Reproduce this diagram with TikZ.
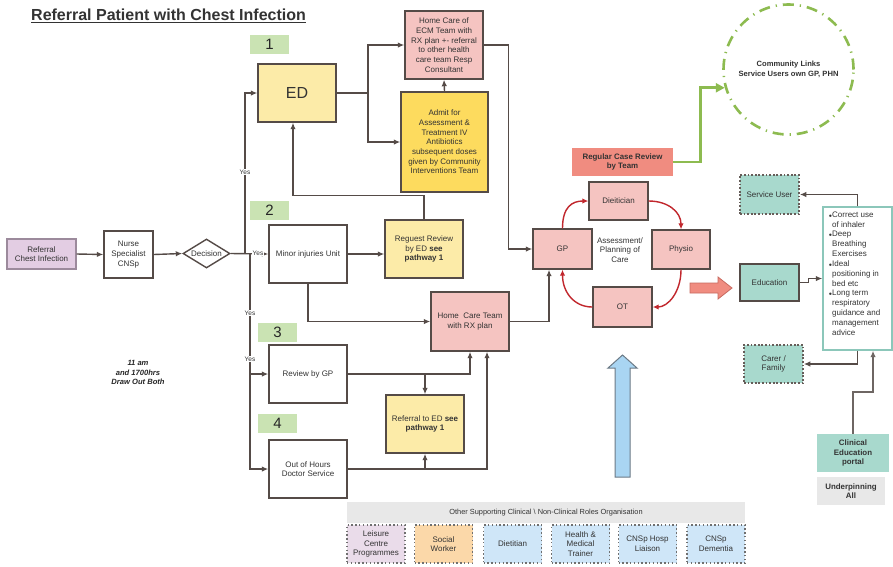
\documentclass[tikz,border=0pt]{standalone}
\usepackage{fontspec}
\setmainfont{Liberation Sans}
\usetikzlibrary{arrows.meta,calc,shapes.geometric}

\definecolor{edge}{HTML}{554B47}
\definecolor{titlegray}{HTML}{333333}
\definecolor{lightyellow}{HTML}{FCEBA8}
\definecolor{gold}{HTML}{FDDB5E}
\definecolor{pinkfill}{HTML}{F5C4C1}
\definecolor{numgreen}{HTML}{CAE3B3}
\definecolor{purplefill}{HTML}{E3CDE3}
\definecolor{purpleedge}{HTML}{9C8A9C}
\definecolor{salmon}{HTML}{F08C80}
\definecolor{salmonedge}{HTML}{C86A60}
\definecolor{cgreen}{HTML}{8DBB50}
\definecolor{cycred}{HTML}{C1272D}
\definecolor{teal}{HTML}{A8D9CD}
\definecolor{tealedge}{HTML}{8CC7BA}
\definecolor{skyfill}{HTML}{A9D5F2}
\definecolor{skyedge}{HTML}{6C7A86}
\definecolor{bandgray}{HTML}{E8E8E8}
\definecolor{lavender}{HTML}{EADCEA}
\definecolor{peach}{HTML}{FBD8A9}
\definecolor{paleblue}{HTML}{CFE6F8}
\definecolor{dotedge}{HTML}{707070}

\newcommand\boxfont{\fontsize{8}{9.7}\selectfont}
\newcommand\boldfont{\fontsize{7.9}{9.7}\selectfont\bfseries}

\tikzset{
  sz/.style 2 args={minimum width=#1pt, minimum height=#2pt},
  box/.style={draw=edge, line width=1.4pt, align=center, inner sep=1pt, font=\boxfont, text=black!80},
  wbox/.style={box, fill=white},
  ybox/.style={box, fill=lightyellow},
  pbox/.style={box, fill=pinkfill},
  numtag/.style={fill=numgreen, minimum width=39pt, minimum height=19pt, inner sep=0pt,
                 font=\fontsize{15}{15}\selectfont, text=black!85},
  conn/.style={draw=edge, line width=1.4pt, -{Latex[length=6.5pt,width=5.5pt]}},
  yes/.style={fill=white, inner sep=0.6pt, font=\fontsize{6.5}{7}\selectfont, text=black!80},
  cyc/.style={draw=cycred, line width=1.4pt, -{Latex[length=6pt,width=5.5pt]}},
  dotbox/.style={draw=dotedge, line width=1.4pt, dash pattern=on 1.4pt off 2.4pt,
                 align=center, inner sep=1pt, font=\boxfont, text=black!80, sz={58}{38}},
  tealdot/.style={draw=edge!90, line width=1.6pt, dash pattern=on 1.8pt off 1.8pt,
                 fill=teal, align=center, inner sep=1pt, font=\boxfont, text=black!80},
}

\begin{document}
\begin{tikzpicture}[x=1pt,y=-1pt]
\fill[white] (0,0) rectangle (893,566);
\useasboundingbox (0,0) rectangle (893,566);

% title
\node[anchor=west, inner sep=0pt, text=titlegray, font=\fontsize{16}{19}\selectfont\bfseries]
  (title) at (31,16) {\underline{Referral Patient with Chest Infection}};

% pathway numbers
\node[numtag] (n1) at (269.5,44.5) {1};
\node[numtag] (n2) at (269.5,210.5) {2};
\node[numtag] (n3) at (277.5,332) {3};
\node[numtag] (n4) at (277.5,423.5) {4};

% entry chain
\node[box, fill=purplefill, draw=purpleedge, sz={69}{30}] (ref) at (41.5,254) {Referral\\Chest Infection};
\node[wbox, sz={49}{47}] (nurse) at (128.5,254.5) {Nurse\\Specialist\\CNSp};
\node[diamond, draw=edge, line width=1.4pt, fill=white, minimum width=47pt, minimum height=29pt,
      inner sep=0pt, label={[font=\boxfont, text=black!80]center:Decision}] (dec) at (206.5,253.5) {};

\node[font=\fontsize{7.6}{9.6}\selectfont\bfseries\itshape, align=center, text=black!85]
  (hours) at (138,372.5) {11 am\\and 1700hrs\\Draw Out Both};

% pathway boxes
\node[ybox, sz={78}{58}, font=\fontsize{16}{16}\selectfont] (ed) at (297,93) {ED};
\node[pbox, sz={78}{68}] (home) at (444,45) {Home Care of\\ECM Team with\\RX plan +- referral\\to other health\\care team Resp\\Consultant};
\node[box, fill=gold, sz={87}{100}] (admit) at (444.5,142) {Admit for\\Assessment \&\\Treatment IV\\Antibiotics\\subsequent doses\\given by Community\\Interventions Team};
\node[wbox, sz={78}{58}] (minor) at (308,254) {Minor injuries Unit};
\node[ybox, sz={78}{58}] (request) at (424,249) {Reguest Review\\by ED \textbf{see}\\\textbf{pathway 1}};
\node[pbox, sz={78}{59}] (hct) at (470,321.5) {Home\ \ Care Team\\with RX plan};
\node[wbox, sz={78}{58}] (revgp) at (308,374) {Review by GP};
\node[ybox, sz={78}{58}] (refed) at (425,424) {Referral to ED \textbf{see}\\\textbf{pathway 1}};
\node[wbox, sz={78}{58}] (ooh) at (308,469) {Out of Hours\\Doctor Service};

% junctions on the decision lines
\coordinate (jup) at (245,253.5);
\coordinate (jdown) at (250,253.5);
\coordinate (jgp) at (250,374);
\coordinate (jed) at (368,93);
\coordinate (jrev) at (425,374);
\coordinate (jooh) at (425,469);

% connectors, left part
\draw[conn] (ref.east) -- (nurse.west);
\draw[conn] (nurse.east) -- (dec.west);
\draw[draw=edge, line width=1.4pt] (dec.east) -- (jup);
\draw[conn] (jup) |- (ed.west);
\draw[conn] (dec.east) -- (minor.west);
\draw[conn] (jdown) |- (ooh.west);
\draw[conn] (jgp) -- (revgp.west);
\node[yes] (yes1) at (245,172) {Yes};
\node[yes] (yes2) at (258,253.5) {Yes};
\node[yes] (yes3) at (250,313) {Yes};
\node[yes] (yes4) at (250,359) {Yes};

\draw[draw=edge, line width=1.4pt] (ed.east) -- (jed);
\draw[conn] (jed) |- (home.west);
\draw[conn] (jed) |- (admit.west);
\draw[conn] (admit.north) -- (home.south);
\draw[conn] (request.north) |- ($(ed.south)+(-4,73)$) -- ($(ed.south)+(-4,0)$);
\draw[conn] (minor.east) -- (minor.east -| request.west);
\draw[conn] (minor.south) |- (hct.west);
\draw[conn] (revgp.east) -| (hct.south);
\draw[conn] (jrev) -- (refed.north);
\draw[conn] (ooh.east) -| ($(hct.south)+(17,0)$);
\draw[conn] (jooh) -- (refed.south);

% care planning cycle
\node[pbox, sz={59}{40}] (gp) at (562.5,249) {GP};
\node[pbox, sz={59}{38}] (diet) at (618.5,201) {Dieitician};
\node[pbox, sz={58}{39}] (physio) at (681,249.5) {Physio};
\node[pbox, sz={59}{40}] (ot) at (622.5,307) {OT};
\node[font=\boxfont, align=center, text=black!80] (assess) at (620,250) {Assessment/\\Planning of\\Care};

\draw[conn] (home.east) -- ++(25,0) |- (gp.west);
\draw[conn] (hct.east) -| ($(gp.south)+(-13.5,0)$);

\draw[cyc] (gp.north) .. controls (562.5,207) and (572,201) .. (diet.west);
\draw[cyc] (diet.east) .. controls (668,201) and (681,212) .. (physio.north);
\draw[cyc] (physio.south) .. controls (681,292) and (668,307) .. (ot.east);
\draw[cyc] (ot.west) .. controls (574,307) and (562.5,292) .. (gp.south);

% case review and community links
\node[fill=salmon, sz={101}{28}, align=center, inner sep=0pt, font=\boldfont, text=black!80]
  (review) at (622.5,162) {Regular Case Review\\by Team};
\node[circle, draw=cgreen, line width=2.6pt, dash pattern=on 11pt off 6pt on 1.2pt off 6pt,
      minimum size=130pt, align=center, inner sep=0pt, font=\fontsize{7.6}{9.4}\selectfont\bfseries, text=black!80]
  (comm) at (788.5,69.5) {Community Links\\Service Users own GP, PHN};
\draw[draw=cgreen, line width=2.6pt, -{Triangle[length=9pt,width=9pt]}] (review.east) -- ++(27,0) |- (comm.196);

% big arrows
\draw[fill=salmon, draw=salmonedge, line width=0.8pt]
  (690,283) -- (718,283) -- (718,277) -- (732,288) -- (718,299) -- (718,293) -- (690,293) -- cycle;
\draw[fill=skyfill, draw=skyedge, line width=1pt]
  (615,477) -- (615,368) -- (608,368) -- (622.5,355) -- (637,368) -- (630,368) -- (630,477) -- cycle;

% education panel
\node[tealdot, sz={59}{39}] (su) at (769.5,194.5) {Service User};
\node[box, fill=teal, sz={59}{37}] (edu) at (769.5,282.5) {Education};
\node[tealdot, sz={59}{38}] (carer) at (773.5,364) {Carer /\\Family};
\node[draw=tealedge, line width=1.4pt, fill=white, sz={69}{143}, inner sep=0pt] (bul) at (857.5,278.5) {};
\node[anchor=north west, inner sep=0pt, align=left, font=\fontsize{8}{9.83}\selectfont, text=black!80]
  (bultext) at (832,211.5) {%
  \llap{\tiny$\bullet$}Correct use\\ of inhaler\\
  \llap{\tiny$\bullet$}Deep\\ Breathing\\ Exercises\\
  \llap{\tiny$\bullet$}Ideal\\ positioning in\\ bed etc\\
  \llap{\tiny$\bullet$}Long term\\ respiratory\\ guidance and\\ management\\ advice};
\node[fill=teal, sz={72}{38}, align=center, inner sep=0pt, font=\boldfont, text=black!80]
  (portal) at (853,453) {Clinical\\Education\\portal};
\node[fill=bandgray, sz={68}{28}, align=center, inner sep=0pt, font=\boldfont, text=black!80]
  (under) at (851,491) {Underpinning\\All};

\draw[conn] (edu.east) -- ++(9,0) |- (bul.west);
\draw[conn] (bul.north) |- (su.east);
\draw[conn] (bul.south) |- (carer.east);
\draw[conn, draw=edge!85] (portal.north) -- ++(0,-42) -| ($(bul.south)+(15.5,0)$);

% supporting roles
\node[fill=bandgray, sz={398}{21}, inner sep=0pt, font=\fontsize{7.4}{9}\selectfont, text=black!80]
  (band) at (546,512.5) {Other Supporting Clinical \textbackslash{} Non-Clinical Roles Organisation};
\node[dotbox, fill=lavender] (leisure) at (376,544) {Leisure\\Centre\\Programmes};
\node[dotbox, fill=peach] (social) at (443.5,544) {Social\\Worker};
\node[dotbox, fill=paleblue] (dietb) at (512.5,544) {Dietitian};
\node[dotbox, fill=paleblue] (trainer) at (580.5,544) {Health \&\\Medical\\Trainer};
\node[dotbox, fill=paleblue] (liaison) at (647.5,544) {CNSp Hosp\\Liaison};
\node[dotbox, fill=paleblue] (dementia) at (716,544) {CNSp\\Dementia};
\end{tikzpicture}
\end{document}
